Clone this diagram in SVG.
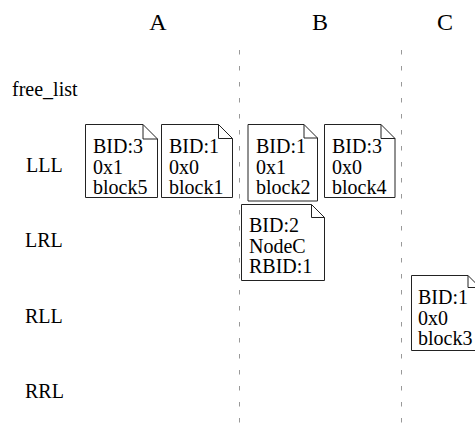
<svg xmlns="http://www.w3.org/2000/svg" width="475" height="423" viewBox="0 0 475 423">
<style>
text{font-family:"Liberation Serif","Times New Roman",serif;fill:#000}
.lbl{font-size:20px}
.hdr{font-size:24px;text-anchor:middle}
.bt{font-size:20px}
.note{fill:#fff;stroke:#222;stroke-width:1}
.fold{fill:none;stroke:#222;stroke-width:1}
.sep{stroke:#999;stroke-width:1;stroke-dasharray:4.5 11.5}
</style>
<rect width="475" height="423" fill="#fff"/>
<g id="headers">
<text class="hdr" x="158" y="30">A</text>
<text class="hdr" x="320" y="30">B</text>
<text class="hdr" x="445" y="30">C</text>
</g>
<g id="rows">
<text class="lbl" x="12" y="96">free_list</text>
<text class="lbl" x="26" y="172">LLL</text>
<text class="lbl" x="25" y="247">LRL</text>
<text class="lbl" x="25" y="323">RLL</text>
<text class="lbl" x="25" y="398">RRL</text>
</g>
<g id="separators">
<line class="sep" x1="239.5" y1="50" x2="239.5" y2="423"/>
<line class="sep" x1="401.5" y1="50" x2="401.5" y2="423"/>
</g>
<g id="n1">
<path class="note" d="M85.5,124.5 H143 L157.5,139 V197.5 H85.5 Z"/>
<path class="fold" d="M143,124.5 V139 H157.5"/>
<text class="bt" x="93" y="153">BID:3</text>
<text class="bt" x="93" y="173.5">0x1</text>
<text class="bt" x="93" y="194">block5</text>
</g>
<g id="n2">
<path class="note" d="M161.5,124.5 H218.5 L232.5,138.5 V197.5 H161.5 Z"/>
<path class="fold" d="M218.5,124.5 V138.5 H232.5"/>
<text class="bt" x="169" y="153">BID:1</text>
<text class="bt" x="169" y="173.5">0x0</text>
<text class="bt" x="169" y="194">block1</text>
</g>
<g id="n3">
<path class="note" d="M248,124.5 H304 L317.5,138 V201 H248 Z"/>
<path class="fold" d="M304,124.5 V138 H317.5"/>
<text class="bt" x="256" y="153">BID:1</text>
<text class="bt" x="256" y="173.5">0x1</text>
<text class="bt" x="256" y="194">block2</text>
</g>
<g id="n4">
<path class="note" d="M324.5,124.5 H381 L395,138.5 V197.5 H324.5 Z"/>
<path class="fold" d="M381,124.5 V138.5 H395"/>
<text class="bt" x="332" y="153">BID:3</text>
<text class="bt" x="332" y="173.5">0x0</text>
<text class="bt" x="332" y="194">block4</text>
</g>
<g id="n5">
<path class="note" d="M241.5,204.5 H311.5 L324.5,217.5 V280.5 H241.5 Z"/>
<path class="fold" d="M311.5,204.5 V217.5 H324.5"/>
<text class="bt" x="249" y="232">BID:2</text>
<text class="bt" x="249" y="252.5">NodeC</text>
<text class="bt" x="249" y="273">RBID:1</text>
</g>
<g id="n6">
<path class="note" d="M411.5,275.5 H468 L480,287.5 V350.5 H411.5 Z"/>
<path class="fold" d="M468,275.5 V287.5 H480"/>
<text class="bt" x="418" y="304">BID:1</text>
<text class="bt" x="418" y="324.5">0x0</text>
<text class="bt" x="418" y="345">block3</text>
</g>
</svg>
